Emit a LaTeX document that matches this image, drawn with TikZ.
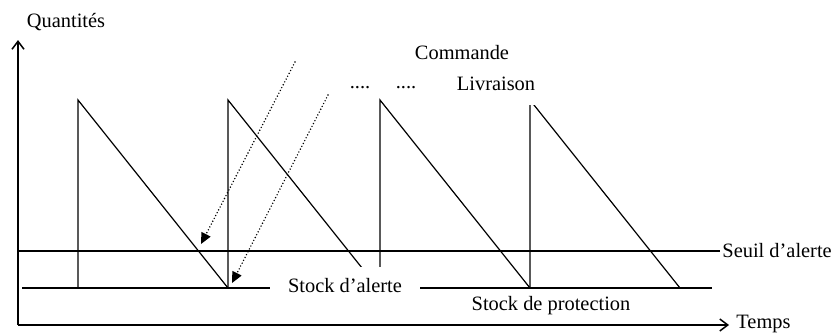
\documentclass[tikz,border=0pt]{standalone}
\usepackage{fontspec}
\setmainfont{Liberation Serif}
\usetikzlibrary{arrows.meta,positioning}

\tikzset{
  axis/.style={line width=0.75pt,-{Straight Barb[length=4pt,width=6pt]}},
  level/.style={line width=0.65pt},
  saw/.style={line width=0.6pt},
  order/.style={line width=0.8pt,line cap=round,dash pattern=on 0pt off 1.6pt,-{Triangle[length=5.5pt,width=5pt]}},
  txt/.style={fill=white,inner sep=1pt,font=\fontsize{10.2}{12}\selectfont}
}

\begin{document}
\begin{tikzpicture}[x=0.5pt,y=-0.5pt]
\useasboundingbox (0,0) rectangle (838,333);
% axes
\coordinate (O) at (18,325);
\coordinate (ytop) at (18,40);
\coordinate (xend) at (729,325);
\draw[axis] (O) -- (ytop);
\draw[axis] (O) -- (xend);
% seuil and protection levels
\coordinate (s0) at (18,251);
\coordinate (s1) at (720,251);
\draw[level] (s0) -- (s1);
\coordinate (p0) at (22,288);
\coordinate (p1) at (712,288);
\draw[level] (p0) -- (p1);
% stock curve
\foreach \i/\x in {1/78,2/228,3/380,4/530}{
  \coordinate (b\i) at (\x,288);
  \coordinate (t\i) at (\x,100);
  \coordinate (e\i) at (\x+150,288);
  \draw[saw] (b\i) -- (t\i) -- (e\i);
}
% orders
\coordinate (c1) at (295,62);
\coordinate (a1) at (201,244);
\draw[order] (c1) -- (a1);
\coordinate (c2) at (328,95);
\coordinate (a2) at (232,283);
\draw[order] (c2) -- (a2);
% labels
\node[txt] (qty) at (66,22) {Quantités};
\node[txt] (cmd) at (462,53) {Commande};
\node[txt,minimum width=48pt,minimum height=21pt] (liv) at (496,84) {Livraison};
\node[txt] (dots1) at (360,88) {....};
\node[txt] (dots2) at (406,88) {....};
\node[txt,anchor=west] (seuil) at (s1) {Seuil d'alerte};
\node[txt,minimum width=75pt,minimum height=19pt] (alerte) at (345,286) {Stock d'alerte};
\node[txt] (prot) at (551,306) {Stock de protection};
\node[txt,anchor=west] (temps) at (734,324) {Temps};
\end{tikzpicture}
\end{document}
